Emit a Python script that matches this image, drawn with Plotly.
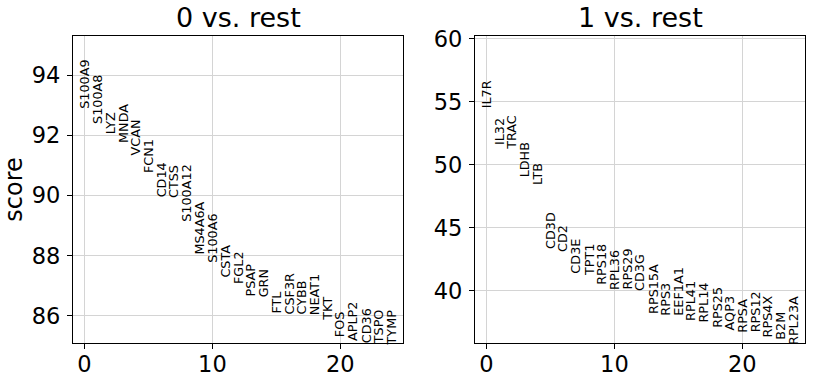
import plotly.graph_objects as go

genes_0 = ["S100A9", "S100A8", "LYZ", "MNDA", "VCAN", "FCN1", "CD14", "CTSS", "S100A12",
           "MS4A6A", "S100A6", "CSTA", "FGL2", "PSAP", "GRN", "FTL", "CSF3R", "CYBB",
           "NEAT1", "TKT", "FOS", "APLP2", "CD36", "TSPO", "TYMP"]
scores_0 = [92.95, 92.44, 92.11, 91.83, 91.39, 90.83, 90.0, 89.97, 89.19,
            88.11, 87.83, 87.33, 87.11, 86.72, 86.67, 86.14, 86.12, 86.11,
            86.10, 85.89, 85.37, 85.22, 85.17, 85.13, 85.1]

genes_1 = ["IL7R", "IL32", "TRAC", "LDHB", "LTB", "CD3D", "CD2", "CD3E", "TPT1", "RPS18",
           "RPL36", "RPS29", "CD3G", "RPS15A", "RPS3", "EEF1A1", "RPL41", "RPL14", "RPS25",
           "AQP3", "RPSA", "RPS12", "RPS4X", "B2M", "RPL23A"]
scores_1 = [54.6, 51.71, 51.31, 49.19, 48.53, 43.47, 43.21, 41.48, 41.35, 40.64,
            40.26, 40.24, 40.1, 38.3, 38.18, 38.16, 37.77, 37.63, 37.23,
            36.97, 36.85, 36.83, 36.44, 36.25, 35.85]

titles = ["0 vs. rest", "1 vs. rest"]
x_ticks = [0, 10, 20]
y_ticks_0 = [86, 88, 90, 92, 94]
y_ticks_1 = [40, 45, 50, 55, 60]

FONT = "DejaVu Sans"
fig = go.Figure()

W, H = 820, 386
L, R, T, B = 73, 805, 36, 343
pw = R - L
panels = [
    (genes_0, scores_0, y_ticks_0, "x", "y", [0, (403 - L) / pw]),
    (genes_1, scores_1, y_ticks_1, "x2", "y2", [(475 - L) / pw, 1]),
]

annotations = []
for k, (genes, scores, yt, xa, ya, xdom) in enumerate(panels):
    idx = list(range(len(genes)))
    fig.add_trace(go.Scatter(x=idx, y=scores, mode="markers",
                             marker=dict(opacity=0), hoverinfo="skip",
                             showlegend=False, xaxis=xa, yaxis=ya))
    for i, (g, s) in enumerate(zip(genes, scores)):
        annotations.append(dict(x=i, y=s, xref=xa, yref=ya, text=g, showarrow=False,
                                textangle=-90, xanchor="center", yanchor="bottom",
                                yshift=-2, borderpad=0, borderwidth=0,
                                font=dict(family=FONT, size=12.8, color="black")))
    ymin = min(scores)
    ymax = max(scores)
    ymax += 0.3 * (ymax - ymin)
    axsuffix = "" if k == 0 else "2"
    common = dict(showline=True, mirror=True, linecolor="black", linewidth=1.2,
                  ticks="outside", ticklen=5, tickwidth=1.2, tickcolor="black",
                  showgrid=True, gridcolor="#d4d4d4", gridwidth=1, zeroline=False,
                  automargin=False,
                  tickfont=dict(family=FONT, size=22.5, color="black"))
    fig.update_layout(**{
        "xaxis" + axsuffix: dict(domain=xdom, range=[-0.9, len(genes) - 0.1],
                                 tickvals=x_ticks, anchor=ya, ticklabelstandoff=-4,
                                 **common),
        "yaxis" + axsuffix: dict(domain=[0, 1], range=[ymin, ymax], tickvals=yt,
                                 anchor=xa, ticklabelstandoff=2, **common),
    })
    annotations.append(dict(x=(xdom[0] + xdom[1]) / 2, y=1, xref="paper", yref="paper",
                            text=titles[k], showarrow=False, xanchor="center",
                            yanchor="bottom", yshift=1,
                            font=dict(family=FONT, size=27, color="black")))

fig.update_layout(
    yaxis_title=dict(text="score", font=dict(family=FONT, size=24, color="black"), standoff=4),
    annotations=annotations,
    width=W, height=H,
    margin=dict(l=L, r=W - R, t=T, b=H - B, autoexpand=False),
    plot_bgcolor="white", paper_bgcolor="white",
)

fig.write_html("out.html", config={"displayModeBar": False},
               post_script="document.body.style.margin='0';document.body.style.overflow='hidden';")
